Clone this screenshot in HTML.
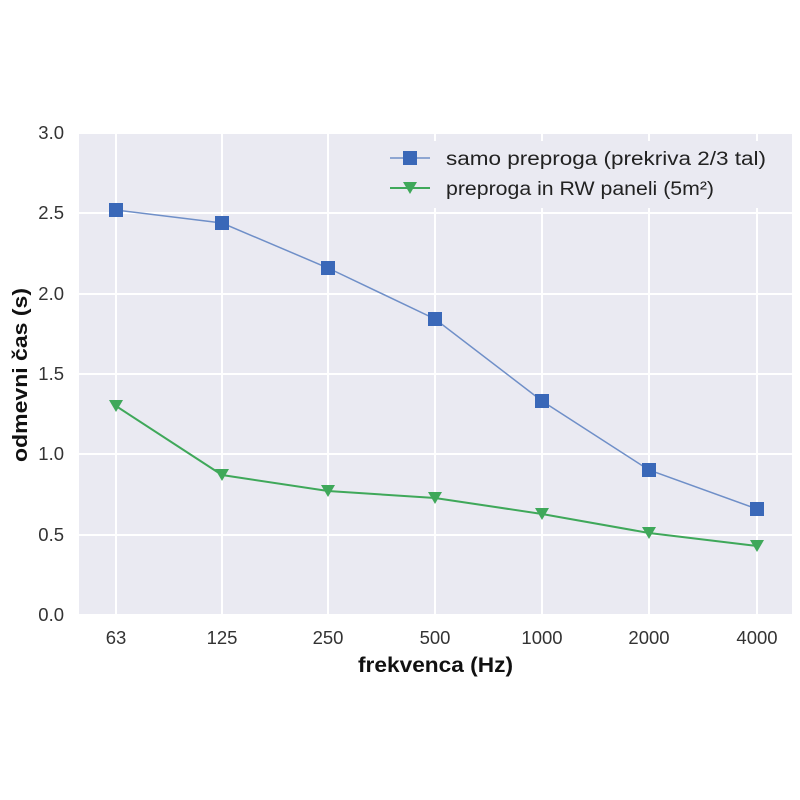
<!DOCTYPE html><html><head><meta charset="utf-8"><style>body{margin:0;background:#fff}svg{display:block}</style></head><body>
<svg width="800" height="800" xmlns="http://www.w3.org/2000/svg" font-family="Liberation Sans, DejaVu Sans, sans-serif">
<rect x="79" y="133" width="713" height="482" fill="#eaeaf2"/>
<g stroke="#fff" stroke-width="2">
<line x1="79" x2="792" y1="133" y2="133"/><line x1="79" x2="792" y1="213" y2="213"/><line x1="79" x2="792" y1="294" y2="294"/><line x1="79" x2="792" y1="374" y2="374"/><line x1="79" x2="792" y1="454" y2="454"/><line x1="79" x2="792" y1="535" y2="535"/><line x1="79" x2="792" y1="615" y2="615"/>
<line x1="116" x2="116" y1="133" y2="615"/><line x1="222" x2="222" y1="133" y2="615"/><line x1="328" x2="328" y1="133" y2="615"/><line x1="435" x2="435" y1="133" y2="615"/><line x1="542" x2="542" y1="133" y2="615"/><line x1="649" x2="649" y1="133" y2="615"/><line x1="757" x2="757" y1="133" y2="615"/>
</g>
<g font-size="18.5" fill="#333" text-anchor="end">
<text x="64" y="139">3.0</text><text x="64" y="219">2.5</text><text x="64" y="300">2.0</text><text x="64" y="380">1.5</text><text x="64" y="460">1.0</text><text x="64" y="541">0.5</text><text x="64" y="621">0.0</text>
</g>
<g font-size="18.5" fill="#333" text-anchor="middle">
<text x="116" y="644">63</text><text x="222" y="644">125</text><text x="328" y="644">250</text><text x="435" y="644">500</text><text x="542" y="644">1000</text><text x="649" y="644">2000</text><text x="757" y="644">4000</text>
</g>
<text x="358" y="672" font-size="21" font-weight="bold" fill="#111" textLength="155" lengthAdjust="spacingAndGlyphs">frekvenca (Hz)</text>
<text transform="translate(27,462) rotate(-90)" font-size="20" font-weight="bold" fill="#111" textLength="174" lengthAdjust="spacingAndGlyphs">odmevni čas (s)</text>
<polyline fill="none" stroke="#6f8fc8" stroke-width="1.5" points="116,210 222,223 328,268 435,319 542,401 649,470 757,509"/>
<g fill="#3a68b8"><rect x="109" y="203" width="14" height="14"/><rect x="215" y="216" width="14" height="14"/><rect x="321" y="261" width="14" height="14"/><rect x="428" y="312" width="14" height="14"/><rect x="535" y="394" width="14" height="14"/><rect x="642" y="463" width="14" height="14"/><rect x="750" y="502" width="14" height="14"/></g>
<polyline fill="none" stroke="#3fa85a" stroke-width="2" points="116,406 222,475 328,491 435,498 542,514 649,533 757,546"/>
<g fill="#3fa85a">
<path d="M109,400h14l-7,12z"/><path d="M215,469h14l-7,12z"/><path d="M321,485h14l-7,12z"/><path d="M428,492h14l-7,12z"/><path d="M535,508h14l-7,12z"/><path d="M642,527h14l-7,12z"/><path d="M750,540h14l-7,12z"/>
</g>
<rect x="382" y="141" width="405" height="67" fill="#eaeaf2"/>
<line x1="390" x2="430" y1="158" y2="158" stroke="#6f8fc8" stroke-width="1.5"/><rect x="403" y="151" width="14" height="14" fill="#3a68b8"/>
<line x1="390" x2="430" y1="188" y2="188" stroke="#3fa85a" stroke-width="2"/><path d="M403,182h14l-7,12z" fill="#3fa85a"/>
<g font-size="19" fill="#222"><text x="446" y="165" textLength="320" lengthAdjust="spacingAndGlyphs">samo preproga (prekriva 2/3 tal)</text><text x="446" y="195" textLength="268" lengthAdjust="spacingAndGlyphs">preproga in RW paneli (5m²)</text></g>
</svg></body></html>
